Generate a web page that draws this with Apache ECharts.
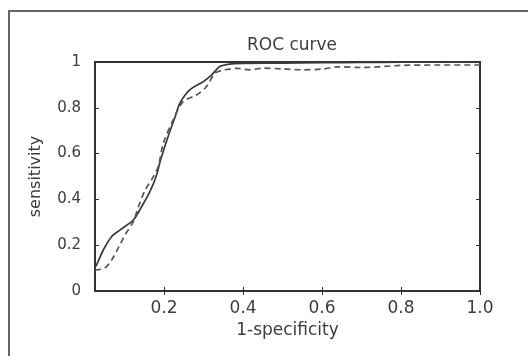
<!DOCTYPE html>
<html><head><meta charset="utf-8">
<script src="https://cdn.jsdelivr.net/npm/echarts@6/dist/echarts.min.js"></script>
<style>html,body{margin:0;padding:0;background:#fff}#c{width:528px;height:356px}</style>
</head><body><div id="c"></div>
<script>
const titleText = 'ROC curve';
const xName = '1-specificity';
const yName = 'sensitivity';
const xTicks = [0.2, 0.4, 0.6, 0.8, 1.0];
const yTicks = [0, 0.2, 0.4, 0.6, 0.8, 1];
const fprSolid = [0.025, 0.029, 0.046, 0.067, 0.088, 0.122, 0.143, 0.164, 0.181, 0.191, 0.21, 0.228, 0.24, 0.265, 0.299, 0.32, 0.341, 0.366, 0.40, 0.5, 0.6, 0.7, 0.8, 0.9, 1.0];
const tprSolid = [0.105, 0.114, 0.179, 0.237, 0.266, 0.31, 0.368, 0.434, 0.507, 0.572, 0.674, 0.761, 0.82, 0.878, 0.914, 0.943, 0.98, 0.991, 0.994, 0.995, 0.997, 0.998, 0.999, 0.999, 1.0];
const fprDashed = [0.025, 0.05, 0.067, 0.084, 0.101, 0.122, 0.135, 0.152, 0.168, 0.185, 0.198, 0.223, 0.248, 0.282, 0.307, 0.329, 0.35, 0.384, 0.417, 0.45, 0.5, 0.55, 0.6, 0.64, 0.7, 0.8, 0.9, 1.0];
const tprDashed = [0.092, 0.1, 0.135, 0.188, 0.245, 0.303, 0.368, 0.441, 0.485, 0.543, 0.645, 0.747, 0.827, 0.856, 0.892, 0.951, 0.965, 0.972, 0.966, 0.973, 0.97, 0.966, 0.969, 0.979, 0.976, 0.985, 0.987, 0.987];

const solidData = fprSolid.map((x, i) => [x, tprSolid[i]]);
const dashedData = fprDashed.map((x, i) => [x, tprDashed[i]]);
const font = 'DejaVu Sans, sans-serif';
const axisCol = '#333';
const txtCol = '#3c3c3c';

const chart = echarts.init(document.getElementById('c'), null, {renderer: 'canvas'});
chart.setOption({
  animation: false,
  backgroundColor: '#fff',
  title: {text: titleText, left: 287, top: 32, textAlign: 'center',
    textStyle: {fontFamily: font, fontSize: 17, fontWeight: 'normal', color: txtCol}},
  graphic: [
    {type: 'polyline', shape: {points: [[9, 360], [9, 11], [528, 11]]}, style: {stroke: '#666', lineWidth: 2, fill: null}, silent: true}
  ],
  grid: {left: 95, right: 48, top: 62, bottom: 65, show: true, borderColor: axisCol, borderWidth: 2},
  xAxis: [
    {type: 'value', min: 0.025, max: 1.0, name: xName, nameLocation: 'middle', nameGap: 30,
      nameTextStyle: {fontFamily: font, fontSize: 17, color: txtCol},
      axisLine: {show: true, lineStyle: {color: axisCol, width: 2}},
      axisTick: {show: true, inside: true, length: 4, customValues: xTicks, lineStyle: {color: axisCol}},
      axisLabel: {customValues: xTicks, formatter: v => v.toFixed(1), margin: 9, fontFamily: font, fontSize: 17, color: txtCol},
      splitLine: {show: false}},
    {type: 'value', position: 'top', min: 0.025, max: 1.0,
      axisLine: {show: true, lineStyle: {color: axisCol, width: 2}},
      axisTick: {show: true, inside: true, length: 4, customValues: xTicks, lineStyle: {color: axisCol}},
      axisLabel: {show: false}, splitLine: {show: false}}
  ],
  yAxis: [
    {type: 'value', min: 0, max: 1, interval: 0.2, name: yName, nameLocation: 'middle', nameGap: 51,
      nameTextStyle: {fontFamily: font, fontSize: 16, color: txtCol},
      axisLine: {show: true, lineStyle: {color: axisCol, width: 2}},
      axisTick: {show: true, inside: true, length: 4, lineStyle: {color: axisCol}},
      axisLabel: {formatter: v => (v === 0 || v === 1) ? String(v) : v.toFixed(1), margin: 14, fontFamily: font, fontSize: 15, color: txtCol},
      splitLine: {show: false}},
    {type: 'value', position: 'right', min: 0, max: 1, interval: 0.2,
      axisLine: {show: true, lineStyle: {color: axisCol, width: 2}},
      axisTick: {show: true, inside: true, length: 4, lineStyle: {color: axisCol}},
      axisLabel: {show: false}, splitLine: {show: false}}
  ],
  series: [
    {type: 'line', data: solidData, smooth: 0.3, showSymbol: false, symbol: 'none',
      lineStyle: {color: '#3a3a3a', width: 1.7, type: 'solid'}},
    {type: 'line', data: dashedData, smooth: 0.3, showSymbol: false, symbol: 'none',
      lineStyle: {color: '#555', width: 1.7, type: [6, 4]}}
  ]
});
</script></body></html>
